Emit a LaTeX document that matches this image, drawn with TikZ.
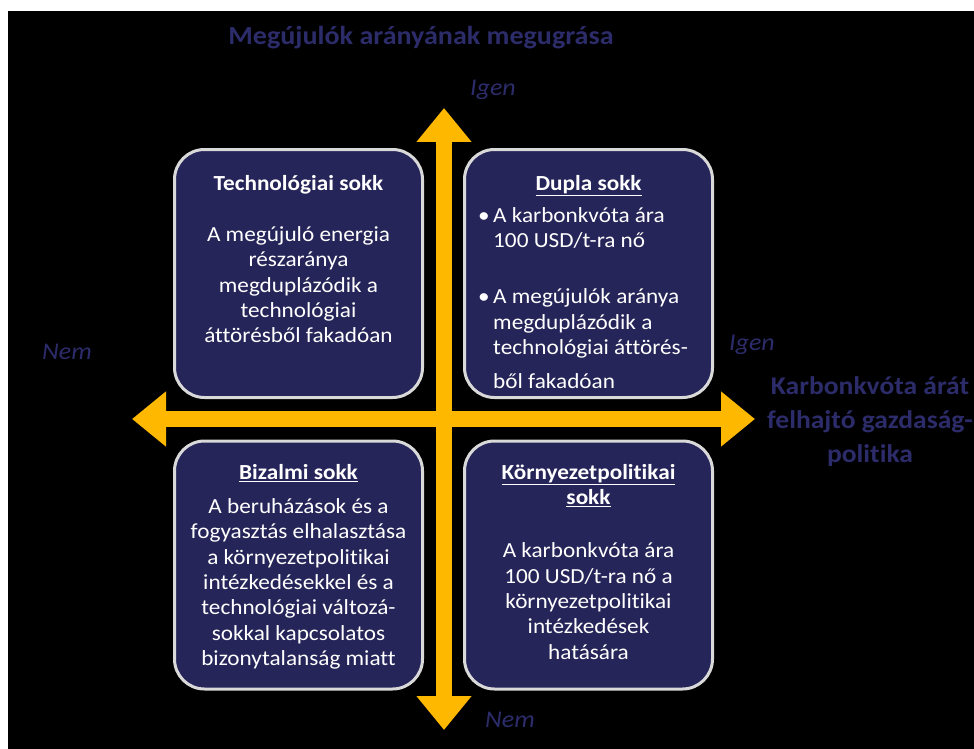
\documentclass[tikz,border=0pt]{standalone}
\usepackage{fontspec}
\setmainfont{Carlito}[FakeStretch=1.08, Ligatures=NoCommon]
\usetikzlibrary{positioning, arrows.meta}
\definecolor{navy}{HTML}{262559}
\definecolor{ink}{HTML}{2D2C6B}
\definecolor{gold}{HTML}{FFB800}
\definecolor{rim}{HTML}{D9D9D9}

\begin{document}
\begin{tikzpicture}[
  x=1pt, y=-1pt,
  box/.style={rectangle, rounded corners=30pt, draw=rim, line width=3pt,
              fill=navy, minimum width=248pt, minimum height=248pt, inner sep=0pt},
  body/.style={text=white, font=\fontsize{21.5}{25.3}\selectfont,
               align=center, anchor=north, inner sep=0pt},
  axislbl/.style={text=ink, font=\fontsize{24}{26}\selectfont\itshape},
  axistitle/.style={text=ink, font=\fontsize{25.5}{34}\selectfont\bfseries, align=center},
  biarr/.style={{Triangle[length=34pt, width=53pt]}-{Triangle[length=34pt, width=53pt]},
                line width=16pt, draw=gold}
]
\useasboundingbox (0,0) rectangle (974,749);
\fill[white] (0,0) rectangle (974,749);
\fill[black] (8,11) rectangle (974,749);

% quadrant boxes
\node[box] (tl) at (298.5,273.5) {};
\node[box] (tr) at (588.5,273.5) {};
\node[box] (bl) at (298.5,565) {};
\node[box] (br) at (588.5,565) {};

% axes
\coordinate (up) at (444,108);
\coordinate (down) at (444,730);
\coordinate (west) at (132,419);
\coordinate (east) at (755,419);
\draw[biarr] (west) -- (east);
\draw[biarr] (down) -- (up);

% axis labels
\node[axistitle, font=\fontsize{26}{34}\selectfont\bfseries] (ytitle) at (421,38)
  {Megújulók arányának megugrása};
\node[axislbl] (yes1) at (493,90) {Igen};
\node[axislbl] (no1) at (510,720) {Nem};
\node[axislbl] (no2) at (67,352) {Nem};
\node[axislbl] (yes2) at (752,345) {Igen};
\node[axistitle] (xtitle) at (870,422) {Karbonkvóta árát\\felhajtó gazdaság-\\politika};

% box texts
\node[body] (tltext) at (298.5,175)
  {\textbf{Technológiai sokk}\\[26pt]
   A megújuló energia\\részaránya\\megduplázódik a\\technológiai\\áttörésből fakadóan};
\node[body] (trhead) at (588.5,175) {\textbf{\underline{Dupla sokk}}};
\node[body, align=left, anchor=north west] (trlist) at (478,207)
  {\makebox[15pt][l]{\textbullet}A karbonkvóta ára\\
   \hspace*{15pt}100 USD/t-ra nő\\[31pt]
   \makebox[15pt][l]{\textbullet}A megújulók aránya\\
   \hspace*{15pt}megduplázódik a\\
   \hspace*{15pt}technológiai áttörés-\\[9pt]
   \hspace*{15pt}ből fakadóan};
\node[body] (bltext) at (298.5,464)
  {\textbf{\underline{Bizalmi sokk}}\\[9pt]
   A beruházások és a\\fogyasztás elhalasztása\\a környezetpolitikai\\intézkedésekkel és a\\technológiai változá-\\sokkal kapcsolatos\\bizonytalanság miatt};
\node[body] (brtext) at (588.5,464)
  {\textbf{\underline{Környezetpolitikai}}\\\textbf{\underline{sokk}}\\[28pt]
   A karbonkvóta ára\\100 USD/t-ra nő a\\környezetpolitikai\\intézkedések\\hatására};
\end{tikzpicture}
\end{document}
